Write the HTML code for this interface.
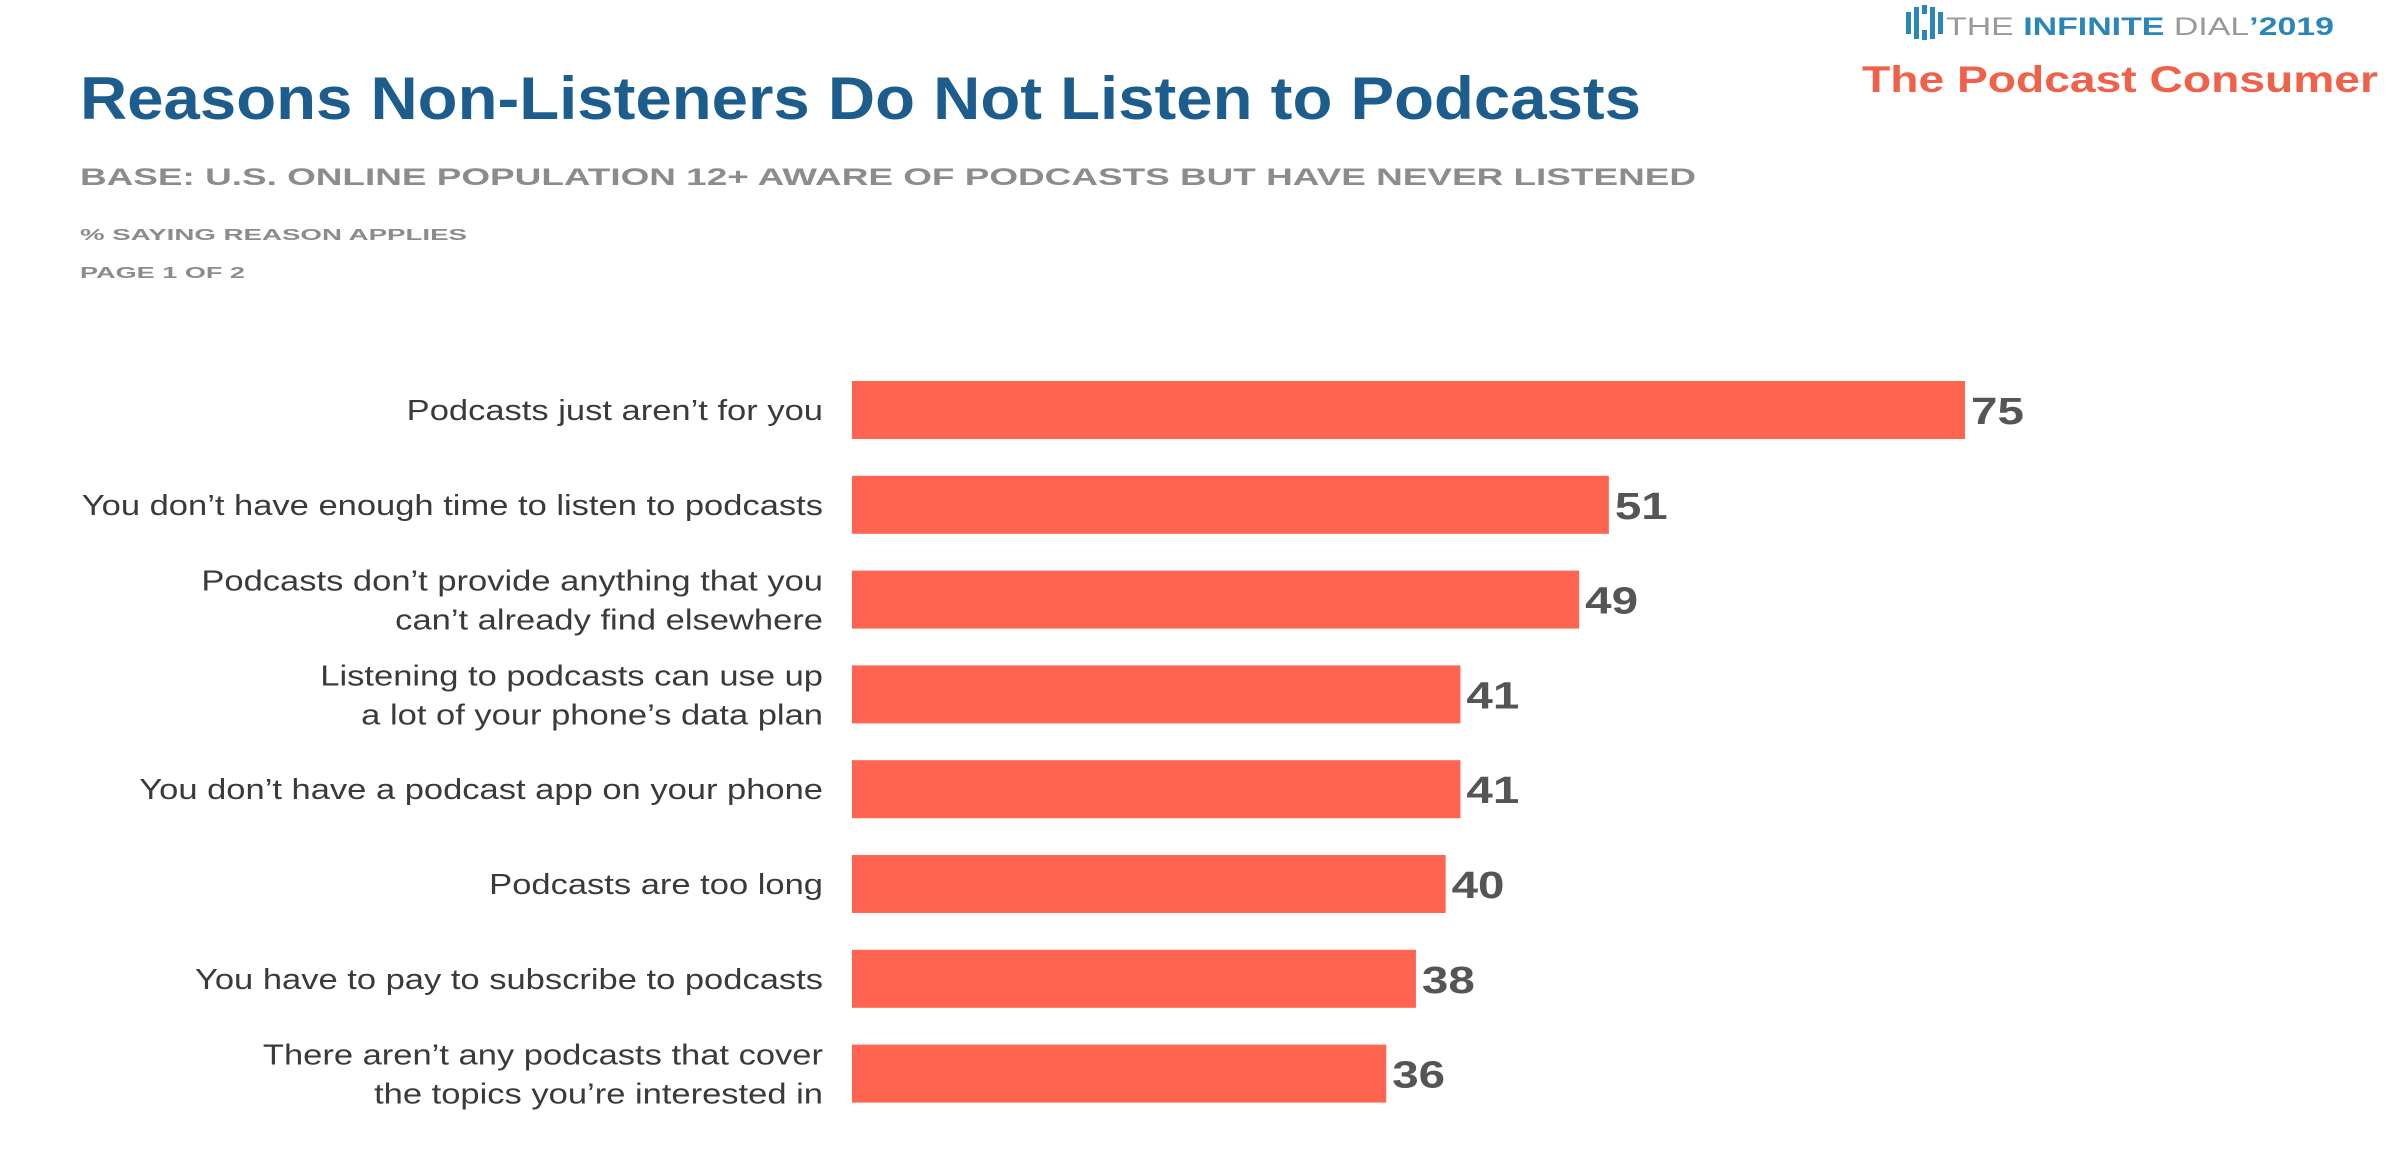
<!DOCTYPE html>
<html><head><meta charset="utf-8"><style>
html,body{margin:0;padding:0;background:#fff;width:2400px;height:1150px;overflow:hidden}
svg{display:block}
</style></head><body>
<svg id="chart" width="2400" height="1150" xmlns="http://www.w3.org/2000/svg" font-family="Liberation Sans, sans-serif">
<text x="80" y="119" font-size="60" font-weight="bold" fill="#1d5d8e" textLength="1561" lengthAdjust="spacingAndGlyphs">Reasons Non-Listeners Do Not Listen to Podcasts</text>
<text x="80" y="185" font-size="24" font-weight="bold" fill="#8c8c8c" textLength="1616" lengthAdjust="spacingAndGlyphs">BASE: U.S. ONLINE POPULATION 12+ AWARE OF PODCASTS BUT HAVE NEVER LISTENED</text>
<text x="80" y="240" font-size="16" font-weight="bold" fill="#8c8c8c" textLength="387" lengthAdjust="spacingAndGlyphs">% SAYING REASON APPLIES</text>
<text x="80" y="278" font-size="16" font-weight="bold" fill="#8c8c8c" textLength="165" lengthAdjust="spacingAndGlyphs">PAGE 1 OF 2</text>
<g>
<g fill="#2a86b8"><rect x="1906" y="12" width="5" height="22"/><rect x="1914" y="7" width="5" height="32"/><rect x="1922" y="5" width="5" height="9"/><rect x="1922" y="30" width="5" height="10"/><rect x="1930" y="7" width="5" height="32"/><rect x="1938" y="12" width="5" height="22"/></g>
<text x="1946" y="35" font-size="25" fill="#999" textLength="388" lengthAdjust="spacingAndGlyphs">THE <tspan fill="#2a86b8" font-weight="bold">INFINITE</tspan> DIAL<tspan fill="#2a86b8" font-weight="bold">’2019</tspan></text>
</g>
<text x="2378" y="92" text-anchor="end" font-size="37" font-weight="bold" fill="#f0614a" textLength="516" lengthAdjust="spacingAndGlyphs">The Podcast Consumer</text>
<g id="bars"></g>
</svg>
<script>
const categories = [
 ["Podcasts just aren’t for you"],
 ["You don’t have enough time to listen to podcasts"],
 ["Podcasts don’t provide anything that you","can’t already find elsewhere"],
 ["Listening to podcasts can use up","a lot of your phone’s data plan"],
 ["You don’t have a podcast app on your phone"],
 ["Podcasts are too long"],
 ["You have to pay to subscribe to podcasts"],
 ["There aren’t any podcasts that cover","the topics you’re interested in"]
];
const values = [75,51,49,41,41,40,38,36];
const valueLabels = ["75","51","49","41","41","40","38","36"];
const NS="http://www.w3.org/2000/svg";
const x0=852, pxPerUnit=(1965-852)/75;
const xScale=v=>x0+v*pxPerUnit;
const yScale=i=>381+i*94.8;
const barH=58;
const g=document.getElementById('bars');
function mk(t,a){const e=document.createElementNS(NS,t);for(const k in a)e.setAttribute(k,a[k]);return e;}
function stretch(el,f){const L=el.getComputedTextLength();el.setAttribute('textLength',(L*f).toFixed(1));el.setAttribute('lengthAdjust','spacingAndGlyphs');}
values.forEach((v,i)=>{
 const y=yScale(i);
 const r=mk('rect',{x:x0,y:y,width:xScale(v)-x0,height:barH,fill:'#fe6450'});
 
 
 g.appendChild(r);
 const t=mk('text',{x:xScale(v)+6,y:y+barH/2+14,'font-size':38,'font-weight':'bold',fill:'#555'});
 t.textContent=valueLabels[i];
 
 
 g.appendChild(t);
 stretch(t,1.25);
 const lines=categories[i];
 const cy=y+barH/2;
 lines.forEach((ln,j)=>{
  const off=lines.length===1?10:(j===0?-9:30);
  const l=mk('text',{x:823,y:cy+off,'text-anchor':'end','font-size':29,fill:'#3a3a3a'});
  l.textContent=ln;
  
  
  g.appendChild(l);
  stretch(l,1.19);
 });
});
</script>
</body></html>
